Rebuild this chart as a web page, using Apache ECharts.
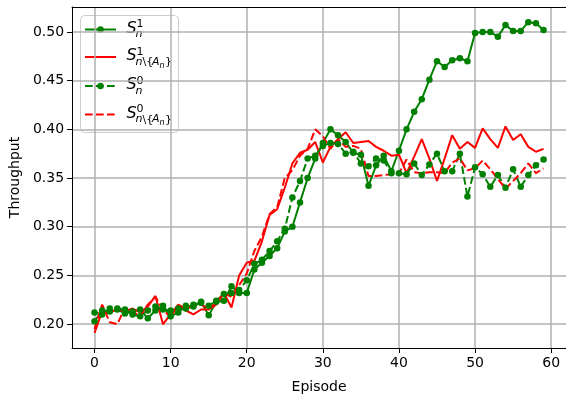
<!DOCTYPE html>
<html><head><meta charset="utf-8">
<script src="https://cdn.jsdelivr.net/npm/echarts@6/dist/echarts.min.js"></script>
<style>html,body{margin:0;padding:0;background:#fff}#c{width:566px;height:399px}</style>
</head><body><div id="c"></div>
<script>
const episodes = [0,1,2,3,4,5,6,7,8,9,10,11,12,13,14,15,16,17,18,19,20,21,22,23,24,25,26,27,28,29,
  30,31,32,33,34,35,36,37,38,39,40,41,42,43,44,45,46,47,48,49,50,51,52,53,54,55,56,57,58,59];

const S1 = [0.203,0.214,0.213,0.215,0.211,0.213,0.215,0.206,0.214,0.219,
  0.208,0.212,0.219,0.218,0.223,0.209,0.223,0.224,0.239,0.232,
  0.232,0.256,0.263,0.270,0.278,0.295,0.300,0.325,0.350,0.370,
  0.386,0.400,0.394,0.387,0.376,0.374,0.342,0.363,0.373,0.357,
  0.378,0.400,0.418,0.431,0.451,0.470,0.464,0.471,0.473,0.470,
  0.499,0.500,0.500,0.495,0.507,0.501,0.501,0.510,0.509,0.502];

const S1_A = [0.191,0.213,0.212,0.215,0.213,0.216,0.212,0.218,0.229,0.200,
  0.210,0.220,0.214,0.210,0.215,0.215,0.220,0.232,0.217,0.250,
  0.263,0.265,0.285,0.312,0.318,0.340,0.365,0.376,0.379,0.387,
  0.366,0.382,0.390,0.397,0.386,0.387,0.388,0.382,0.378,0.373,
  0.374,0.355,0.372,0.390,0.370,0.347,0.370,0.394,0.380,0.387,
  0.381,0.401,0.390,0.381,0.403,0.389,0.395,0.382,0.377,0.380];

const S0 = [0.212,0.210,0.216,0.216,0.215,0.210,0.208,0.214,0.218,0.215,
  0.214,0.216,0.216,0.220,0.222,0.219,0.224,0.231,0.232,0.235,
  0.245,0.262,0.266,0.275,0.285,0.298,0.330,0.347,0.370,0.373,
  0.383,0.386,0.385,0.375,0.377,0.365,0.362,0.370,0.368,0.355,
  0.355,0.354,0.365,0.353,0.364,0.375,0.357,0.357,0.375,0.331,
  0.361,0.354,0.341,0.353,0.340,0.359,0.341,0.353,0.363,0.369];

const S0_A = [0.195,0.220,0.202,0.200,0.217,0.213,0.208,0.220,0.228,0.215,
  0.207,0.220,0.216,0.218,0.220,0.216,0.222,0.232,0.228,0.240,
  0.252,0.275,0.290,0.313,0.320,0.350,0.358,0.373,0.380,0.400,
  0.393,0.380,0.390,0.382,0.383,0.380,0.352,0.352,0.353,0.354,
  0.355,0.369,0.356,0.355,0.356,0.356,0.355,0.366,0.370,0.358,
  0.360,0.368,0.359,0.349,0.339,0.347,0.355,0.365,0.355,0.360];

const xTickLabels = [0,10,20,30,40,50,60];
const yTickLabels = ['0.20','0.25','0.30','0.35','0.40','0.45','0.50'];

const FONT = 'DejaVu Sans';
const GREEN = '#008000', RED = '#ff0000';
const DASH = [7.7, 3.3];

function xFmt(v){ return xTickLabels.some(t => Math.abs(t - v) < 1e-6) ? String(Math.round(v)) : ''; }
function yFmt(v){ const s = v.toFixed(2); return (yTickLabels.includes(s) && Math.abs(parseFloat(s)-v) < 1e-6) ? s : ''; }

function mk(name, arr, color, dashed, marker){
  return {
    type:'line', name, data: episodes.map((e,i)=>[e, arr[i]]),
    symbol: marker ? 'circle' : 'none', symbolSize: 6.5, showSymbol: marker,
    itemStyle:{color, borderWidth:0}, lineStyle:{color, width:2, type: dashed ? DASH : 'solid'},
    animation:false, silent:true
  };
}

const chart = echarts.init(document.getElementById('c'), null, {renderer:'canvas'});

function legendRow(L, sup, subParts, color, dashed, marker){
  const els = [
    {type:'line', shape:{x1:85,y1:L,x2:116,y2:L}, style:{stroke:color, lineWidth:2, lineDash: dashed ? DASH : null}},
  ];
  if (marker) els.push({type:'circle', shape:{cx:100.5, cy:L, r:3.25}, style:{fill:color}});
  els.push({type:'text', x:126.5, y:L+7, style:{text:'S', font:'italic 16px "DejaVu Sans"', fill:'#000', verticalAlign:'bottom'}});
  els.push({type:'text', x:136.5, y:L+0.5, style:{text:sup, font:'11px "DejaVu Sans"', fill:'#000', verticalAlign:'bottom'}});
  subParts.forEach(p => els.push({type:'text', x:p.x, y:p.y + L, style:{text:p.t, font:(p.it?'italic ':'') + p.s + 'px "DejaVu Sans"', fill:'#000', verticalAlign:'bottom'}}));
  return els;
}

const subSimple = [{x:135.5, y:10.5, t:'n', s:11, it:true}];
const subCompound = [
  {x:135.5, y:10.5, t:'n', s:11, it:true},
  {x:142.5, y:11, t:'\\{', s:11, it:false},
  {x:152, y:10.5, t:'A', s:11, it:true},
  {x:159.5, y:12.5, t:'n', s:8, it:true},
  {x:165, y:11, t:'}', s:11, it:false}
];

const legendEls = [
  {type:'rect', shape:{x:80.5, y:15.5, width:98, height:117, r:4}, style:{fill:'rgba(255,255,255,0.8)', stroke:'#cccccc', lineWidth:1}},
  ...legendRow(29.5, '1', subSimple, GREEN, false, true),
  ...legendRow(57, '1', subCompound, RED, false, false),
  ...legendRow(86, '0', subSimple, GREEN, true, true),
  ...legendRow(114.5, '0', subCompound, RED, true, false)
];

chart.setOption({
  backgroundColor:'#fff',
  animation:false,
  grid:{left:72, right:-2, top:7, bottom:50, show:false},
  xAxis:[{
    type:'value', min:-2.95, max:61.95, splitNumber:6,
    axisLine:{show:true, onZero:false, lineStyle:{color:'#000', width:1}},
    axisTick:{show:true, length:5, lineStyle:{color:'#000', width:1}},
    axisLabel:{formatter:xFmt, color:'#000', fontSize:14, fontFamily:FONT, margin:8, showMinLabel:false, showMaxLabel:false},
    splitLine:{show:true, showMinLine:false, showMaxLine:false, lineStyle:{color:'#b0b0b0', width:1.5}},
    name:'Episode', nameLocation:'middle', nameGap:32,
    nameTextStyle:{fontSize:14, color:'#000', fontFamily:FONT}
  },{
    type:'value', position:'top', min:-2.95, max:61.95,
    axisLine:{show:true, onZero:false, lineStyle:{color:'#000', width:1}},
    axisTick:{show:false}, axisLabel:{show:false}, splitLine:{show:false}
  }],
  yAxis:{
    type:'value', min:0.1755, max:0.5256, splitNumber:7,
    axisLine:{show:true, onZero:false, lineStyle:{color:'#000', width:1}},
    axisTick:{show:true, length:5, lineStyle:{color:'#000', width:1}},
    axisLabel:{formatter:yFmt, color:'#000', fontSize:14, fontFamily:FONT, margin:8, showMinLabel:false, showMaxLabel:false},
    splitLine:{show:true, showMinLine:false, showMaxLine:false, lineStyle:{color:'#b0b0b0', width:1.5}},
    name:'Throughput', nameLocation:'middle', nameGap:48, nameRotate:90,
    nameTextStyle:{fontSize:14, color:'#000', fontFamily:FONT}
  },
  series:[
    mk('S1', S1, GREEN, false, true),
    mk('S1_A', S1_A, RED, false, false),
    mk('S0', S0, GREEN, true, true),
    mk('S0_A', S0_A, RED, true, false)
  ],
  graphic: legendEls
});
</script>
</body></html>
